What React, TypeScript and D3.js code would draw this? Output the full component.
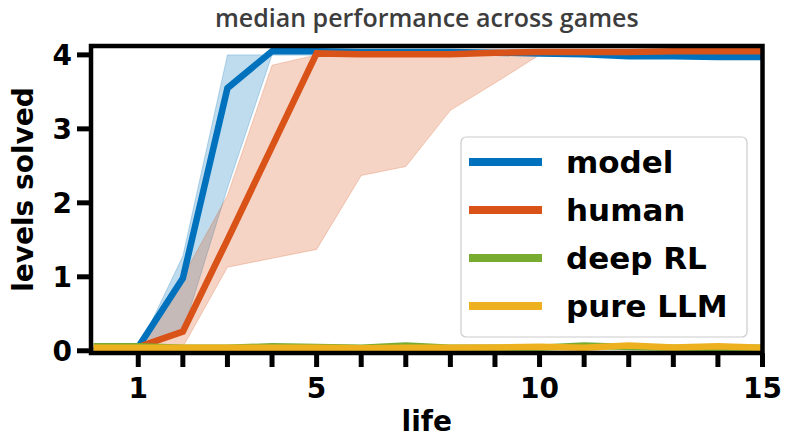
import React from "react";
import * as d3 from "d3";

const lives = [0, 1, 2, 3, 4, 5, 6, 7, 8, 9, 10, 11, 12, 13, 14, 15];
const modelMedian = [0, 0.05, 0.98, 3.55, 4.05, 4.05, 4.04, 4.04, 4.04, 4.03, 4.02, 4.01, 3.98, 3.98, 3.97, 3.97];
const modelLow = [0, 0, 0.25, 2.2, 4.0, 4.0, 4.0, 4.0, 4.0, 4.0, 4.0, 4.0, 3.98, 3.98, 3.98, 3.98];
const modelHigh = [0, 0.02, 1.28, 4.0, 4.0, 4.0, 4.0, 4.0, 4.0, 4.0, 4.0, 4.0, 4.0, 4.0, 4.0, 4.0];
const humanMedian = [0, 0.05, 0.26, 1.5, 2.76, 4.02, 4.01, 4.01, 4.01, 4.03, 4.04, 4.04, 4.04, 4.05, 4.05, 4.05];
const humanLow = [0, 0, 0.05, 1.13, 1.25, 1.37, 2.37, 2.49, 3.25, 3.62, 4.0, 4.0, 4.0, 4.0, 4.0, 4.0];
const humanHigh = [0, 0.05, 1.0, 2.1, 3.86, 4.0, 4.0, 4.0, 4.0, 4.0, 4.0, 4.0, 4.0, 4.0, 4.0, 4.0];
const deepRL = [0.06, 0.06, 0.04, 0.04, 0.06, 0.05, 0.04, 0.07, 0.04, 0.04, 0.04, 0.07, 0.05, 0.04, 0.04, 0.04];
const pureLLM = [0.04, 0.04, 0.04, 0.04, 0.04, 0.04, 0.035, 0.04, 0.04, 0.045, 0.055, 0.04, 0.07, 0.045, 0.06, 0.04];

const seriesNames = ["model", "human", "deep RL", "pure LLM"];
const seriesColors = ["#0072BD", "#D95319", "#77AC30", "#EDB120"];
const xTicks = [1, 2, 3, 4, 5, 6, 7, 8, 9, 10, 11, 12, 13, 14, 15];
const xTickLabels = [1, 5, 10, 15];
const yTicks = [0, 1, 2, 3, 4];

const W = 789;
const H = 437;
const L = 91, R = 762.5, T = 46, B = 353;

export default function App() {
  const x = d3.scaleLinear().domain([-0.06, 15]).range([L, R]);
  const y = d3.scaleLinear().domain([-0.03, 4.12]).range([B, T]);

  const line = (vals: number[]) =>
    d3.line<number>().x((_, i) => x(lives[i])).y((v) => y(v))(vals) || "";
  const area = (lo: number[], hi: number[]) =>
    d3
      .area<number>()
      .x((_, i) => x(lives[i]))
      .y0((_, i) => y(lo[i]))
      .y1((_, i) => y(hi[i]))(lives) || "";

  const lines = [modelMedian, humanMedian, deepRL, pureLLM];
  const axisFont = "'DejaVu Sans', sans-serif";
  const legendRows = [162, 210, 258, 306];

  return (
    <svg
      width={W}
      height={H}
      style={{ position: "absolute", left: 0, top: 0, background: "#fff" }}
    >
      <defs>
        <clipPath id="plotclip">
          <rect x={L} y={T} width={R - L} height={B - T} />
        </clipPath>
      </defs>
      <rect x={0} y={0} width={W} height={H} fill="#fff" />
      <text
        x={(L + R) / 2}
        y={27}
        textAnchor="middle"
        fontFamily="'Open Sans', sans-serif"
        fontWeight={600}
        fontSize={25}
        fill="#3d3d3d"
      >
        median performance across games
      </text>

      <g clipPath="url(#plotclip)">
        <path
          d={area(modelLow, modelHigh)}
          fill={seriesColors[0]}
          fillOpacity={0.25}
          stroke={seriesColors[0]}
          strokeOpacity={0.25}
          strokeWidth={1}
        />
        <path
          d={area(humanLow, humanHigh)}
          fill={seriesColors[1]}
          fillOpacity={0.25}
          stroke={seriesColors[1]}
          strokeOpacity={0.25}
          strokeWidth={1}
        />
        {lines.map((vals, i) => (
          <path
            key={i}
            d={line(vals)}
            fill="none"
            stroke={seriesColors[i]}
            strokeWidth={6.5}
            strokeLinejoin="miter"
          />
        ))}
      </g>

      {/* spines */}
      <rect x={L} y={T} width={R - L} height={B - T} fill="none" stroke="#000" strokeWidth={4.5} />

      {/* x ticks */}
      {xTicks.map((t) => (
        <line key={t} x1={x(t)} x2={x(t)} y1={B} y2={B + 14} stroke="#000" strokeWidth={5} />
      ))}
      {xTickLabels.map((t) => (
        <text
          key={t}
          x={x(t)}
          y={398}
          textAnchor="middle"
          fontFamily={axisFont}
          fontWeight="bold"
          fontSize={28}
          fill="#000"
        >
          {t}
        </text>
      ))}
      {/* y ticks */}
      {yTicks.map((t) => (
        <g key={t}>
          <line x1={L - 14} x2={L} y1={y(t)} y2={y(t)} stroke="#000" strokeWidth={5} />
          <text
            x={L - 19}
            y={y(t) + 10}
            textAnchor="end"
            fontFamily={axisFont}
            fontWeight="bold"
            fontSize={28}
            fill="#000"
          >
            {t}
          </text>
        </g>
      ))}

      <text
        x={(L + R) / 2}
        y={431}
        textAnchor="middle"
        fontFamily={axisFont}
        fontWeight="bold"
        fontSize={28}
        fill="#000"
      >
        life
      </text>
      <text
        transform={`translate(33, ${(T + B) / 2 - 10}) rotate(-90)`}
        textAnchor="middle"
        fontFamily={axisFont}
        fontWeight="bold"
        fontSize={28}
        fill="#000"
      >
        levels solved
      </text>

      {/* legend */}
      <rect
        x={461}
        y={137}
        width={286}
        height={200}
        rx={5}
        fill="#fff"
        fillOpacity={0.8}
        stroke="#cccccc"
        strokeWidth={1.2}
      />
      {seriesNames.map((n, i) => (
        <g key={n}>
          <line
            x1={469}
            x2={542}
            y1={legendRows[i]}
            y2={legendRows[i]}
            stroke={seriesColors[i]}
            strokeWidth={8}
          />
          <text
            x={566}
            y={legendRows[i] + 11}
            fontFamily={axisFont}
            fontWeight="bold"
            fontSize={31}
            fill="#000"
          >
            {n}
          </text>
        </g>
      ))}
    </svg>
  );
}
